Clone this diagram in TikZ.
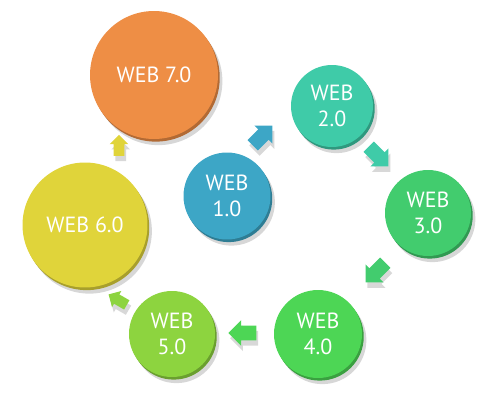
\documentclass[tikz,border=0pt]{standalone}
\usepackage{fontspec}
\setmainfont{PT Sans}
\usepackage{tikz}
\usetikzlibrary{shapes.arrows, shadows}
\definecolor{weborange}{HTML}{EE8E45}
\definecolor{webyellow}{HTML}{E0D43A}
\definecolor{webblue}{HTML}{3DA6C6}
\definecolor{webteal}{HTML}{3FCBA8}
\definecolor{webgreen}{HTML}{42CC6E}
\definecolor{webleaf}{HTML}{4DD655}
\definecolor{weblime}{HTML}{8DD43F}
\tikzset{web/.style={circle, fill=#1, text=white, align=center, inner sep=0pt,
    font=\fontsize{12.5}{15}\selectfont,
    general shadow={fill=black!35, opacity=0.45, shadow xshift=2.5pt, shadow yshift=-3.5pt},
    general shadow={fill=#1!75!black, shadow xshift=1pt, shadow yshift=-1.5pt}}}
\tikzset{turn/.style={single arrow, fill=#1, draw=none, inner xsep=0.04cm, inner ysep=0.14cm,
    minimum height=0.56cm, single arrow head extend=0.11cm,
    general shadow={fill=black!30, opacity=0.5, shadow xshift=1pt, shadow yshift=-3pt}}}
\tikzset{smallturn/.style={inner ysep=0.1cm, minimum height=0.42cm, single arrow head extend=0.08cm}}

\begin{document}
\begin{tikzpicture}[x=0.02cm, y=-0.02cm]
	\useasboundingbox (0,0) rectangle (498,412);
	% circles
	\node(web7)[web=weborange, minimum size=2.56cm] at (154,75) {WEB 7.0};
	\node(web6)[web=webyellow, minimum size=2.5cm] at (85,225) {WEB 6.0};
	\node(web1)[web=webblue, minimum size=1.74cm] at (227,196) {WEB\\1.0};
	\node(web2)[web=webteal, minimum size=1.64cm] at (332,106) {WEB\\2.0};
	\node(web3)[web=webgreen, minimum size=1.72cm] at (428,213) {WEB\\3.0};
	\node(web4)[web=webleaf, minimum size=1.76cm] at (318,334) {WEB\\4.0};
	\node(web5)[web=weblime, minimum size=1.72cm] at (172,334) {WEB\\5.0};

	% arrows
	\node(a12)[turn=webblue, rotate=45] at (260,138) {};
	\node(a23)[turn=webteal, rotate=-45] at (376,154) {};
	\node(a34)[turn=webgreen, rotate=-135] at (378,270) {};
	\node(a45)[turn=webleaf, rotate=180] at (246,333) {};
	\node(a56)[turn=weblime, smallturn, rotate=150] at (120,301) {};
	\node(a67)[turn=webyellow, smallturn, rotate=90] at (119,148) {};
\end{tikzpicture}
\end{document}
